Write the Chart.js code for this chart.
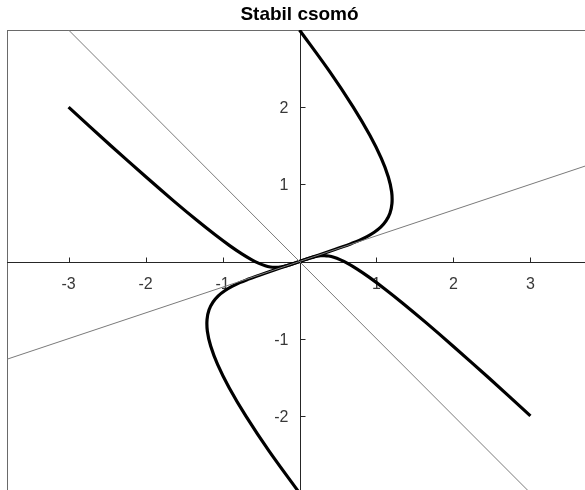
<!DOCTYPE html>
<html>
<head>
<meta charset="utf-8">
<title>Stabil csomó</title>
<script src="https://cdn.jsdelivr.net/npm/chart.js@4"></script>
<style>
  html, body { margin: 0; padding: 0; background: #fff; overflow: hidden; }
  #wrap { width: 600px; height: 500px; }
</style>
</head>
<body>
<div id="wrap"><canvas id="phaseChart" width="600" height="500"></canvas></div>
<script>
// Trajectories of the stable node (each one runs into the origin)
const pathAX = [-3, -2.454, -2.004, -1.636, -1.337, -1.096, -0.903, -0.749, -0.625, -0.526, -0.445, -0.379, -0.323, -0.274, -0.231, -0.190, -0.151, -0.113, -0.075, -0.038, 0];
const pathAY = [2, 1.504, 1.104, 0.786, 0.537, 0.346, 0.203, 0.099, 0.025, -0.024, -0.055, -0.071, -0.077, -0.076, -0.070, -0.060, -0.049, -0.037, -0.025, -0.013, 0];

const pathBX = [0, 0.397, 0.696, 0.914, 1.063, 1.154, 1.197, 1.201, 1.175, 1.124, 1.055, 0.971, 0.877, 0.776, 0.670, 0.560, 0.449, 0.337, 0.225, 0.113, 0];
const pathBY = [3, 2.454, 2.004, 1.636, 1.337, 1.096, 0.903, 0.749, 0.625, 0.526, 0.445, 0.379, 0.323, 0.274, 0.231, 0.190, 0.151, 0.113, 0.075, 0.038, 0];

const pathCX = [3, 2.454, 2.004, 1.636, 1.337, 1.096, 0.903, 0.749, 0.625, 0.526, 0.445, 0.379, 0.323, 0.274, 0.231, 0.190, 0.151, 0.113, 0.075, 0.038, 0];
const pathCY = [-2, -1.504, -1.104, -0.786, -0.537, -0.346, -0.203, -0.099, -0.025, 0.024, 0.055, 0.071, 0.077, 0.076, 0.070, 0.060, 0.049, 0.037, 0.025, 0.013, 0];

const pathDX = [0, -0.397, -0.696, -0.914, -1.063, -1.154, -1.197, -1.201, -1.175, -1.124, -1.055, -0.971, -0.877, -0.776, -0.670, -0.560, -0.449, -0.337, -0.225, -0.113, 0];
const pathDY = [-3, -2.454, -2.004, -1.636, -1.337, -1.096, -0.903, -0.749, -0.625, -0.526, -0.445, -0.379, -0.323, -0.274, -0.231, -0.190, -0.151, -0.113, -0.075, -0.038, 0];

// Eigenvector directions (straight lines through the origin)
const slowLineX = [-4, 4];
const slowLineY = [-1.333, 1.333];
const fastLineX = [-4, 4];
const fastLineY = [4, -4];

const xTicks = [-3, -2, -1, 1, 2, 3];
const yTicks = [-2, -1, 1, 2];
const titleText = 'Stabil csomó';

function pts(xs, ys) {
    return xs.map((x, i) => ({ x: x, y: ys[i] }));
}

function curve(xs, ys) {
    return {
        data: pts(xs, ys),
        borderColor: '#000000',
        borderWidth: 3.2,
        pointRadius: 0,
        tension: 0.35,
        clip: 0
    };
}

function eigenLine(xs, ys) {
    return {
        data: pts(xs, ys),
        borderColor: '#7a7a7a',
        borderWidth: 1,
        pointRadius: 0,
        tension: 0,
        clip: 0
    };
}

// Box, axes through the origin, ticks, labels and title
const axesPlugin = {
    id: 'originAxes',
    beforeDatasetsDraw(chart) {
        const ctx = chart.ctx;
        const area = chart.chartArea;
        const xs = chart.scales.x;
        const ys = chart.scales.y;
        const x0 = Math.round(xs.getPixelForValue(0)) + 0.5;
        const y0 = Math.round(ys.getPixelForValue(0)) + 0.5;

        ctx.save();
        // outer box
        ctx.strokeStyle = '#6a6a6a';
        ctx.lineWidth = 1;
        ctx.strokeRect(Math.round(area.left) + 0.5, Math.round(area.top) + 0.5,
            area.right - area.left, area.bottom - area.top);

        // axis lines
        ctx.strokeStyle = '#262626';
        ctx.beginPath();
        ctx.moveTo(area.left, y0);
        ctx.lineTo(area.right, y0);
        ctx.moveTo(x0, area.top);
        ctx.lineTo(x0, area.bottom);
        ctx.stroke();

        // tick marks
        ctx.beginPath();
        xTicks.forEach(v => {
            const px = Math.round(xs.getPixelForValue(v)) + 0.5;
            ctx.moveTo(px, y0);
            ctx.lineTo(px, y0 - 5);
        });
        yTicks.forEach(v => {
            const py = Math.round(ys.getPixelForValue(v)) + 0.5;
            ctx.moveTo(x0, py);
            ctx.lineTo(x0 + 5, py);
        });
        ctx.stroke();

        // tick labels
        ctx.fillStyle = '#383838';
        ctx.font = '16px "Liberation Sans", Arial, sans-serif';
        ctx.textAlign = 'center';
        ctx.textBaseline = 'alphabetic';
        xTicks.forEach(v => {
            ctx.fillText(String(v), xs.getPixelForValue(v), y0 + 26);
        });
        ctx.textAlign = 'right';
        yTicks.forEach(v => {
            ctx.fillText(String(v), x0 - 12, ys.getPixelForValue(v) + 6);
        });

        // title
        ctx.fillStyle = '#000000';
        ctx.font = 'bold 19px "Liberation Sans", Arial, sans-serif';
        ctx.textAlign = 'center';
        ctx.fillText(titleText, xs.getPixelForValue(0), 20);
        ctx.restore();
    }
};

const ctx = document.getElementById('phaseChart').getContext('2d');
const phaseChart = new Chart(ctx, {
    type: 'scatter',
    data: {
        datasets: [
            eigenLine(fastLineX, fastLineY),
            eigenLine(slowLineX, slowLineY),
            curve(pathAX, pathAY),
            curve(pathBX, pathBY),
            curve(pathCX, pathCY),
            curve(pathDX, pathDY)
        ]
    },
    options: {
        responsive: false,
        animation: false,
        showLine: true,
        layout: { padding: { left: 7, top: 30, right: 8, bottom: 7 } },
        plugins: {
            legend: { display: false },
            tooltip: { enabled: false },
            title: { display: false }
        },
        scales: {
            x: { type: 'linear', min: -3.8, max: 3.8, display: false },
            y: { type: 'linear', min: -3, max: 3, display: false }
        }
    },
    plugins: [axesPlugin]
});
</script>
</body>
</html>
